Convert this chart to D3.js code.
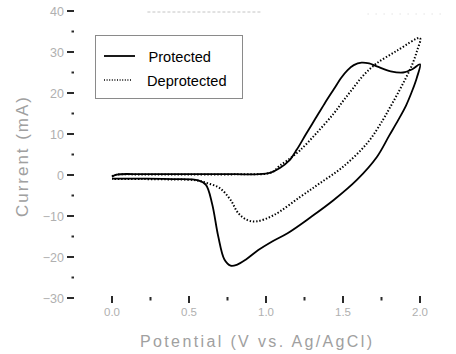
<!DOCTYPE html>
<html>
<head>
<meta charset="utf-8">
<script src="https://cdn.jsdelivr.net/npm/d3@7"></script>
<style>
  html, body { margin: 0; padding: 0; background: #fff; }
  svg { display: block; font-family: "Liberation Sans", Arial, sans-serif; }
</style>
</head>
<body>
<svg id="chart" width="456" height="354"></svg>
<script>
(function () {
  "use strict";

  // cyclic voltammograms, forward scan then reverse scan
  var protectedV = [0.00, 0.03, 0.20, 0.50, 0.80, 0.95, 1.03, 1.09, 1.15, 1.20, 1.26, 1.32, 1.38, 1.44, 1.49, 1.53, 1.57, 1.62, 1.67, 1.72, 1.81, 1.89, 1.95, 2.00,
                    1.98, 1.95, 1.91, 1.86, 1.80, 1.72, 1.59, 1.44, 1.29, 1.14, 1.04, 0.95, 0.87, 0.81, 0.77, 0.73, 0.69, 0.65, 0.61, 0.56, 0.40, 0.20, 0.00];
  var protectedI = [-0.4, 0.1, 0.2, 0.2, 0.2, 0.2, 0.6, 1.7, 3.5, 6.2, 10.0, 13.7, 17.4, 20.9, 23.8, 25.6, 26.8, 27.4, 27.2, 26.5, 25.3, 25.0, 25.8, 27.0,
                    23.8, 20.6, 17.0, 13.5, 9.6, 4.4, -1.2, -6.1, -10.3, -14.2, -16.2, -18.3, -20.6, -21.9, -22.1, -20.6, -15.0, -7.0, -2.4, -1.3, -1.0, -0.9, -0.9];

  var deprotectedV = [0.00, 0.03, 0.20, 0.50, 0.90, 1.00, 1.05, 1.09, 1.14, 1.22, 1.33, 1.44, 1.50, 1.56, 1.63, 1.71, 1.85, 2.00,
                      1.98, 1.95, 1.91, 1.86, 1.81, 1.76, 1.66, 1.50, 1.35, 1.22, 1.05, 0.94, 0.88, 0.82, 0.77, 0.70, 0.62, 0.55, 0.40, 0.20, 0.00];
  var deprotectedI = [-0.3, 0.1, 0.1, 0.1, 0.2, 0.3, 0.9, 2.3, 3.6, 6.0, 10.3, 15.0, 18.0, 20.9, 24.2, 27.0, 30.3, 33.4,
                      30.2, 27.0, 23.8, 20.2, 16.8, 13.5, 7.9, 2.0, -2.0, -5.4, -9.8, -11.3, -11.0, -9.3, -6.1, -3.2, -2.0, -1.3, -1.1, -1.0, -1.0];

  var xTicks = [0, 0.5, 1.0, 1.5, 2.0];
  var xTickLabels = ["0.0", "0.5", "1.0", "1.5", "2.0"];
  var xMinor = [0.25, 0.75, 1.25, 1.75];
  var yTicks = [40, 30, 20, 10, 0, -10, -20, -30];
  var yTickLabels = ["40", "30", "20", "10", "0", "\u221210", "\u221220", "\u221230"];
  var yMinor = [35, 25, 15, 5, -5, -15, -25];
  var legendNames = ["Protected", "Deprotected"];

  function zip(v, i) {
    return v.map(function (d, k) { return [d, i[k]]; });
  }
  var series = [
    { name: legendNames[0], pts: zip(protectedV, protectedI), dash: null },
    { name: legendNames[1], pts: zip(deprotectedV, deprotectedI), dash: "1.4,1.9" }
  ];

  var svg = d3.select("#chart");
  var x = d3.scaleLinear().domain([0, 2]).range([112, 420]);
  var y = d3.scaleLinear().domain([-30, 40]).range([298, 11]);

  var tickColor = "#2a2a2a",
      labelColor = "#b0b0b0",
      titleColor = "#a0a0a0";

  // faint remains of the top frame
  svg.append("line")
      .attr("x1", x(0.23)).attr("x2", x(0.97))
      .attr("y1", y(40) + 1).attr("y2", y(40) + 1)
      .attr("stroke", "#c4c4c4").attr("stroke-width", 1)
      .attr("stroke-dasharray", "3,2");
  svg.append("line")
      .attr("x1", x(1.66)).attr("x2", x(2.15))
      .attr("y1", y(40) + 3).attr("y2", y(40) + 3)
      .attr("stroke", "#d4d4d4").attr("stroke-width", 1)
      .attr("stroke-dasharray", "1,7");

  // y ticks
  var yAxis = svg.append("g").attr("class", "y-axis");
  yAxis.selectAll("line.major").data(yTicks).enter().append("line")
      .attr("class", "major")
      .attr("x1", 67).attr("x2", 74)
      .attr("y1", function (d) { return y(d); })
      .attr("y2", function (d) { return y(d); })
      .attr("stroke", tickColor).attr("stroke-width", 2);
  yAxis.selectAll("line.minor").data(yMinor).enter().append("line")
      .attr("class", "minor")
      .attr("x1", 71.5).attr("x2", 74)
      .attr("y1", function (d) { return y(d); })
      .attr("y2", function (d) { return y(d); })
      .attr("stroke", tickColor).attr("stroke-width", 2);
  yAxis.selectAll("text").data(yTicks).enter().append("text")
      .attr("x", 64)
      .attr("y", function (d) { return y(d) + 4.5; })
      .attr("text-anchor", "end")
      .attr("fill", labelColor)
      .style("font-size", "12.5px")
      .text(function (d, i) { return yTickLabels[i]; });

  // x ticks
  var xAxis = svg.append("g").attr("class", "x-axis");
  xAxis.selectAll("line.major").data(xTicks).enter().append("line")
      .attr("class", "major")
      .attr("x1", function (d) { return x(d); })
      .attr("x2", function (d) { return x(d); })
      .attr("y1", 296).attr("y2", 303)
      .attr("stroke", tickColor).attr("stroke-width", 2);
  xAxis.selectAll("line.minor").data(xMinor).enter().append("line")
      .attr("class", "minor")
      .attr("x1", function (d) { return x(d); })
      .attr("x2", function (d) { return x(d); })
      .attr("y1", 297).attr("y2", 300.5)
      .attr("stroke", tickColor).attr("stroke-width", 2);
  xAxis.selectAll("text").data(xTicks).enter().append("text")
      .attr("x", function (d) { return x(d); })
      .attr("y", 316)
      .attr("text-anchor", "middle")
      .attr("fill", labelColor)
      .style("font-size", "11.5px")
      .text(function (d, i) { return xTickLabels[i]; });

  // axis titles
  svg.append("text")
      .attr("x", 256).attr("y", 347)
      .attr("text-anchor", "middle")
      .attr("fill", titleColor)
      .attr("textLength", 232).attr("lengthAdjust", "spacing")
      .style("font-size", "16px")
      .text("Potential (V vs. Ag/AgCl)");
  svg.append("text")
      .attr("transform", "translate(28,157) rotate(-90)")
      .attr("text-anchor", "middle")
      .attr("fill", titleColor)
      .attr("textLength", 120).attr("lengthAdjust", "spacing")
      .style("font-size", "17px")
      .text("Current (mA)");

  // curves
  var line = d3.line()
      .x(function (d) { return x(d[0]); })
      .y(function (d) { return y(d[1]); })
      .curve(d3.curveCatmullRom.alpha(0.5));

  svg.append("g").selectAll("path").data(series).enter().append("path")
      .attr("d", function (d) { return line(d.pts); })
      .attr("fill", "none")
      .attr("stroke", "#000")
      .attr("stroke-width", function (d) { return d.dash ? 2 : 1.8; })
      .attr("stroke-dasharray", function (d) { return d.dash; });

  // legend
  var legend = svg.append("g").attr("class", "legend");
  legend.append("rect")
      .attr("x", 95.5).attr("y", 35.5)
      .attr("width", 147).attr("height", 63)
      .attr("fill", "none")
      .attr("stroke", "#8a8a8a").attr("stroke-width", 1);
  var items = legend.selectAll("g.item").data(series).enter().append("g")
      .attr("class", "item")
      .attr("transform", function (d, i) { return "translate(0," + (56 + i * 24) + ")"; });
  items.append("line")
      .attr("x1", 104).attr("x2", function (d) { return d.dash ? 132 : 135; })
      .attr("y1", 0).attr("y2", 0)
      .attr("stroke", "#000")
      .attr("stroke-width", function (d) { return d.dash ? 1.3 : 1.8; })
      .attr("stroke-dasharray", function (d) { return d.dash ? "1,1.6" : null; });
  items.append("text")
      .attr("x", function (d, i) { return i ? 147 : 148.5; })
      .attr("y", 5.5)
      .attr("fill", "#000")
      .style("font-size", "14.6px")
      .text(function (d) { return d.name; });
}());
</script>
</body>
</html>
